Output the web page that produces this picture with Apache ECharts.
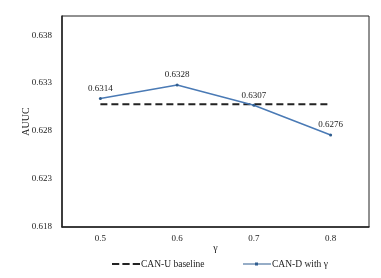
<!DOCTYPE html>
<html><head><meta charset="utf-8">
<script src="https://cdn.jsdelivr.net/npm/echarts@6/dist/echarts.min.js"></script>
<style>html,body{margin:0;padding:0;background:#fff}#c{width:381px;height:278px}</style>
</head><body><div id="c"></div>
<script>
var categories = ['0.5', '0.6', '0.7', '0.8'];
var canD = [0.6314, 0.6328, 0.6307, 0.6276];
var canU = [0.6308, 0.6308, 0.6308, 0.6308];
var yTicks = [0.618, 0.623, 0.628, 0.633, 0.638];
var names = ['CAN-U baseline', 'CAN-D with γ'];
var FONT = '"Liberation Serif", "Times New Roman", serif';
var chart = echarts.init(document.getElementById('c'));
var legendText = {fontFamily: FONT, fontSize: 9.5, color: '#222', padding: [0, 0, 0, -4]};
chart.setOption({
  animation: false,
  textStyle: {fontFamily: FONT},
  grid: {left: 62, right: 12, top: 16, bottom: 51, show: true, borderColor: '#222', borderWidth: 1},
  legend: [
    {data: [{name: names[0], icon: 'path://M0,0 H7 V2 H0 Z M10,0 H17 V2 H10 Z M20,0 H27 V2 H20 Z'}],
      left: 107, top: 254, itemWidth: 28, itemHeight: 2.5, textStyle: legendText},
    {data: [{name: names[1], icon: 'path://M0,3 H12 V2 H15 V3 H28 V4 H15 V5 H12 V4 H0 Z'}],
      left: 238, top: 254, itemWidth: 28, itemHeight: 3.5, textStyle: legendText}
  ],
  xAxis: {
    type: 'category', data: categories, boundaryGap: true,
    name: 'γ', nameLocation: 'middle', nameGap: 16, nameMoveOverlap: false,
    nameTextStyle: {fontFamily: FONT, fontSize: 10, color: '#222'},
    axisLine: {lineStyle: {color: '#222', width: 1.5}},
    axisTick: {show: false},
    axisLabel: {fontFamily: FONT, fontSize: 9, color: '#222', margin: 7}
  },
  yAxis: {
    type: 'value', min: yTicks[0], max: 0.64, interval: 0.005,
    name: 'AUUC', nameLocation: 'middle', nameGap: 31, nameMoveOverlap: false,
    nameTextStyle: {fontFamily: FONT, fontSize: 10, color: '#222'},
    axisLine: {show: true, lineStyle: {color: '#222', width: 1.5}},
    axisTick: {show: false},
    splitLine: {show: false},
    axisLabel: {fontFamily: FONT, fontSize: 9, color: '#222', margin: 10,
      formatter: function (v) { return v > yTicks[yTicks.length - 1] + 0.0005 ? '' : v.toFixed(3); }}
  },
  series: [
    {name: names[0], type: 'line', data: canU, symbol: 'none',
      lineStyle: {color: '#222', width: 2, type: [7, 4]}, itemStyle: {color: '#222'}},
    {name: names[1], type: 'line', data: canD, symbol: 'circle', symbolSize: 3,
      lineStyle: {color: '#4a7ab5', width: 1.5}, itemStyle: {color: '#2f5d8f'},
      label: {show: true, position: 'top', distance: 4, fontFamily: FONT, fontSize: 9, color: '#222',
        formatter: function (p) { return p.value.toFixed(4); }}}
  ]
});
</script></body></html>
